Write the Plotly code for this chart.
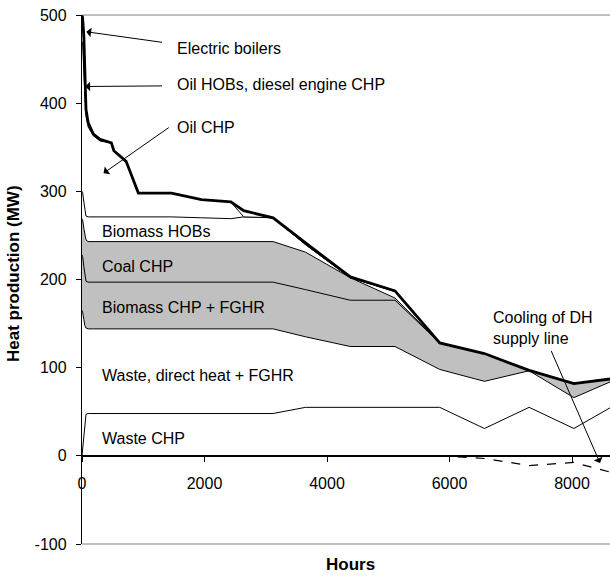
import plotly.graph_objects as go

# Hours of the year (duration curve breakpoints)
hours = [0, 10, 30, 45, 65, 100, 185, 295, 480, 520, 720, 920, 1460, 1950,
         2430, 2640, 3120, 3650, 4380, 5110, 5840, 6570, 7300, 8030, 8760]

# Heat production per unit type (MW), stacked from the bottom up
waste_chp = [0, 8, 22, 33, 47, 48, 48, 48, 48, 48, 48, 48, 48, 48,
             48, 48, 48, 55, 55, 55, 55, 31, 55, 31, 60]
waste_direct = [165, 155, 133, 115, 98, 96, 96, 96, 96, 96, 96, 96, 96, 96,
                96, 96, 96, 80, 69, 69, 43, 53.5, 41.5, 35, 28]
biomass_chp = [63, 63, 60, 56, 53, 53, 53, 53, 53, 53, 53, 53, 53, 53,
               53, 53, 53, 53.5, 52.5, 52.5, 30, 31.5, 0.5, 16, 0.4]
coal_chp = [41, 42, 43, 46, 47, 46, 46, 46, 46, 46, 46, 46, 46, 46,
            46, 46, 46, 42.5, 25.5, 2.5, 0, 0, 0, 0, 0]
biomass_hob = [31, 31, 30, 28, 27, 28, 28, 28, 28, 28, 28, 28, 28, 27,
               26, 28, 27, 8.5, 0, 7.5, 0, 0, 0, 0, 0]
oil_chp = [170, 169, 147, 130, 114, 102, 92, 86, 84, 75, 63, 27, 27, 20.5,
           19, 0, 0, 0, 0, 0, 0, 0, 0, 0, 0]
oil_hob_diesel = [20, 20, 31, 12, 4, 3, 1, 1, 0, 0, 0, 0, 0, 0,
                  0, 7, 0, 1, 0.5, 0.5, 0, 0, 0, 0, 0]
electric_boilers = [10, 9, 10, 11, 3, 2, 1, 1, 0, 0, 0, 0, 0, 0,
                    0, 0, 0, 1, 0.5, 0, 0, 0, 0, 0, 0]

# Heat lost by cooling of the DH supply line in summer (negative, MW)
cooling_hours = [5840, 6570, 7300, 8030, 8760]
cooling_dh = [0, -3, -11, -7.5, -21]

# Axis ticks
x_ticks = [0, 2000, 4000, 6000, 8000]
y_ticks = [-100, 0, 100, 200, 300, 400, 500]
y_tick_text = ["-100", "0", "100", "200", "300", "400", "500"]

GREY = "#c0c0c0"
FONT = "Liberation Sans, Arial, sans-serif"

layers = [
    ("Waste CHP", waste_chp, "white", 1),
    ("Waste, direct heat + FGHR", waste_direct, "white", 1),
    ("Biomass CHP + FGHR", biomass_chp, GREY, 1),
    ("Coal CHP", coal_chp, GREY, 1),
    ("Biomass HOBs", biomass_hob, "white", 1),
    ("Oil CHP", oil_chp, "white", 1),
    ("Oil HOBs, diesel engine CHP", oil_hob_diesel, "white", 1),
    ("Electric boilers", electric_boilers, "white", 2.8),
]

fig = go.Figure()
for name, vals, fillc, lw in layers:
    fig.add_trace(go.Scatter(
        x=hours, y=vals, name=name, mode="lines", stackgroup="prod",
        line=dict(color="black", width=lw), fillcolor=fillc,
        showlegend=False, hoverinfo="skip",
    ))

fig.add_trace(go.Scatter(
    x=cooling_hours, y=cooling_dh, name="Cooling of DH supply line",
    mode="lines", line=dict(color="black", width=1.2, dash="dash"),
    showlegend=False, hoverinfo="skip",
))

# Series labels
labels = [
    ("Electric boilers", 1522, 461.6),
    ("Oil HOBs, diesel engine CHP", 1522, 420.8),
    ("Oil CHP", 1522, 372.4),
    ("Biomass HOBs", 299, 254.4),
    ("Coal CHP", 299, 215.3),
    ("Biomass CHP + FGHR", 299, 168),
    ("Waste, direct heat + FGHR", 299, 90.6),
    ("Waste CHP", 299, 20),
    ("Cooling of DH<br>supply line", 6674, 145.4),
]
for text, lx, ly in labels:
    fig.add_annotation(x=lx, y=ly, xref="x", yref="y", text=text,
                       showarrow=False, xanchor="left", yanchor="middle",
                       align="left", font=dict(family=FONT, size=16, color="black"))

# Leader arrows: (tip x, tip y, tail x, tail y)
arrows = [
    (70, 481, 1331, 468.8),
    (54, 418.9, 1331, 419.6),
    (352, 320.6, 1441, 373.5),
    (8457, -8.2, 7649, 120.8),
]
for tx, ty, sx, sy in arrows:
    fig.add_annotation(x=tx, y=ty, ax=sx, ay=sy, xref="x", yref="y",
                       axref="x", ayref="y", text="", showarrow=True,
                       arrowhead=1, arrowsize=1.6, arrowwidth=1,
                       arrowcolor="black", standoff=0, startstandoff=0)

# Axis titles
fig.add_annotation(x=-0.130, y=0.511, xref="paper", yref="paper",
                   text="<b>Heat production (MW)</b>", textangle=-90,
                   showarrow=False, xanchor="center", yanchor="middle",
                   font=dict(family=FONT, size=17, color="black"))
fig.add_annotation(x=0.509, y=-0.0605, xref="paper", yref="paper",
                   text="<b>Hours</b>", showarrow=False,
                   xanchor="center", yanchor="bottom",
                   font=dict(family=FONT, size=17, color="black"))

# Plot-area frame (top and bottom edges)
for yy in (0, 1):
    fig.add_shape(type="line", xref="paper", yref="paper", x0=0, x1=1,
                  y0=yy, y1=yy, line=dict(color="#808080", width=1))

fig.update_layout(
    width=610, height=577,
    margin=dict(l=82, r=0, t=15, b=33),
    paper_bgcolor="white", plot_bgcolor="white",
    font=dict(family=FONT, size=16, color="black"),
    xaxis=dict(range=[0, 8620], tickvals=x_ticks,
               showgrid=False, zeroline=False, showline=True,
               linecolor="black", linewidth=1.5, ticks="outside",
               ticklen=5, tickcolor="black", anchor="free",
               position=100 / 600, layer="above traces",
               ticklabelstandoff=8,
               tickfont=dict(family=FONT, size=16, color="black")),
    yaxis=dict(range=[-100, 500], tickvals=y_ticks, ticktext=y_tick_text,
               showgrid=False, zeroline=False,
               showline=True, linecolor="black", linewidth=1.3,
               ticks="outside", ticklen=5, tickcolor="black",
               layer="above traces", ticklabelstandoff=6,
               tickfont=dict(family=FONT, size=16, color="black")),
)

fig.write_html("out.html")
